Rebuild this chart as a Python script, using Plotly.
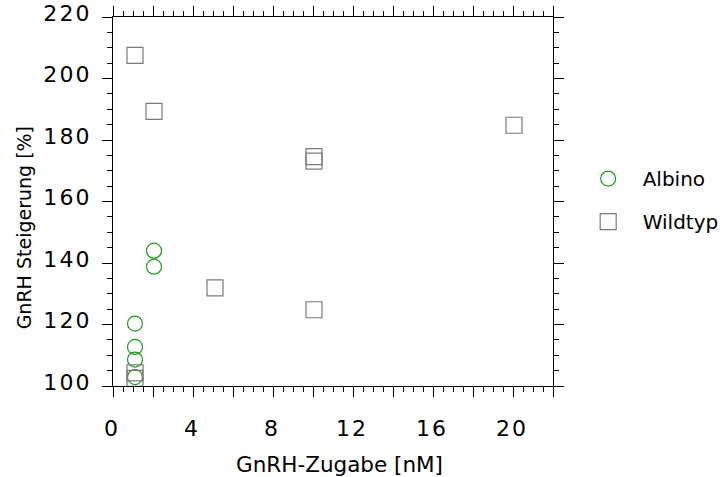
import plotly.graph_objects as go

# Data
albino_x = [1.1, 1.1, 1.1, 1.1, 2.05, 2.05]
albino_y = [120.3, 112.7, 108.6, 102.9, 144.0, 138.8]

wildtyp_x = [1.1, 1.1, 1.1, 2.05, 5.1, 10.05, 10.05, 10.05, 20.05]
wildtyp_y = [207.5, 104.3, 102.5, 189.3, 131.9, 174.6, 173.1, 124.8, 184.8]

x_tickvals = [0, 2, 4, 6, 8, 10, 12, 14, 16, 18, 20, 22]
y_tickvals = [100, 120, 140, 160, 180, 200, 220]

x_title = "GnRH-Zugabe [nM]"
y_title = "GnRH Steigerung [%]"

HS = "\u200a"  # hair space to mimic the wide digit spacing


def spaced(v):
    return HS.join(str(v))


x_ticktext = [spaced(v) if v % 4 == 0 and v <= 20 else "" for v in x_tickvals]
y_ticktext = [spaced(v) for v in y_tickvals]

FONT = "DejaVu Sans"

fig = go.Figure()
fig.add_trace(go.Scatter(
    x=albino_x, y=albino_y, mode="markers", name="Albino",
    legendgroup="a",
    marker=dict(symbol="circle-open", size=15, color="#229922",
                line=dict(width=1.2, color="#229922")),
))
fig.add_trace(go.Scatter(
    x=wildtyp_x, y=wildtyp_y, mode="markers", name="Wildtyp",
    legendgroup="b",
    marker=dict(symbol="square-open", size=16, color="#7a7a7a",
                line=dict(width=1.2, color="#7a7a7a")),
))

axis_common = dict(
    showline=True, linecolor="black", linewidth=1, mirror="ticks",
    ticks="outside", tickcolor="black", tickwidth=1, ticklen=10,
    showgrid=False, zeroline=False,
    tickfont=dict(family=FONT, size=22, color="black"),
)

fig.update_xaxes(
    range=[0, 22], tickmode="array", tickvals=x_tickvals, ticktext=x_ticktext,
    minor=dict(dtick=0.5, tick0=0, ticks="outside", ticklen=5, tickcolor="black",
               showgrid=False),
    ticklabelstandoff=13, ticklabelshift=-2,
    **axis_common,
)
fig.update_yaxes(
    range=[100, 220], tickmode="array", tickvals=y_tickvals, ticktext=y_ticktext,
    minor=dict(dtick=5, tick0=100, ticks="outside", ticklen=5, tickcolor="black",
               showgrid=False),
    ticklabelstandoff=8, ticklabelshift=-4,
    **axis_common,
)

fig.add_annotation(
    text=x_title, xref="paper", yref="paper", x=0.5155, y=(385.7 - 464) / 368.4,
    xanchor="center", yanchor="middle", showarrow=False,
    font=dict(family=FONT, size=21.5, color="black"),
)
fig.add_annotation(
    text=y_title, xref="paper", yref="paper", x=(24 - 112.7) / 440, y=0.428,
    xanchor="center", yanchor="middle", showarrow=False, textangle=-90,
    font=dict(family=FONT, size=19, color="black"),
)

fig.update_layout(
    width=728, height=477,
    margin=dict(l=113, r=175, t=17, b=91, autoexpand=False),
    paper_bgcolor="white", plot_bgcolor="white",
    showlegend=True,
    legend=dict(
        x=1.047, y=0.615, xanchor="left", yanchor="top",
        font=dict(family=FONT, size=20, color="black"),
        bgcolor="rgba(0,0,0,0)", borderwidth=0,
        tracegroupgap=14, itemwidth=59,
    ),
)

fig.write_html("out.html", config={"displayModeBar": False},
               post_script="document.body.style.margin='0';")
